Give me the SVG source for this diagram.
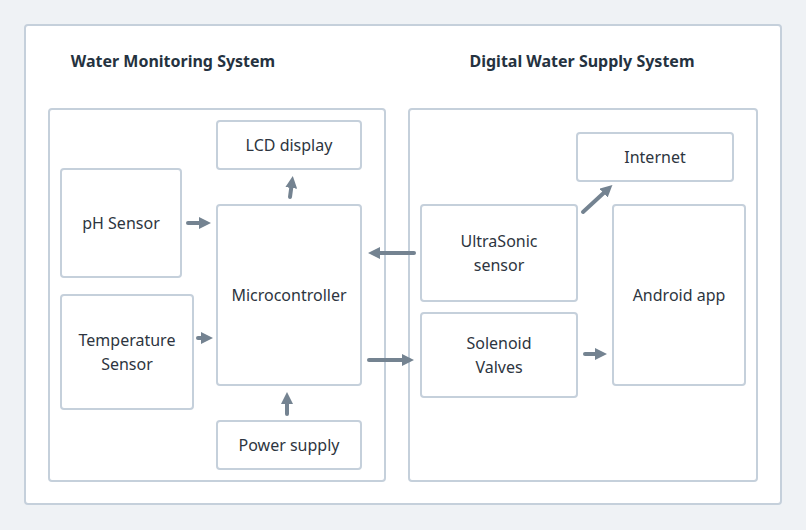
<svg xmlns="http://www.w3.org/2000/svg" width="806" height="530" viewBox="0 0 806 530">
<defs>
<style>
.box{fill:#fff;stroke:#c5d0db;stroke-width:2}
.t{font-family:"Noto Sans","Liberation Sans",sans-serif;font-size:16px;fill:#2d3540;text-anchor:middle;dominant-baseline:central}
.h{font-family:"Noto Sans","Liberation Sans",sans-serif;font-size:16px;font-weight:bold;fill:#253240;text-anchor:middle;dominant-baseline:central}
.c{stroke:#748391;stroke-width:4;fill:none;stroke-linecap:round}
</style>
<marker id="ah" viewBox="0 0 10 10" refX="5" refY="5" markerWidth="3" markerHeight="3" orient="auto" markerUnits="strokeWidth">
<path d="M0,0 L10,5 L0,10 z" fill="#748391"/>
</marker>
</defs>
<rect x="0" y="0" width="806" height="530" fill="#eff2f5"/>
<rect class="box" x="25" y="25" width="756" height="479" rx="3"/>
<g id="left-panel">
<rect class="box" x="49" y="109" width="336" height="372" rx="3"/>
<text class="h" x="173" y="61">Water Monitoring System</text>
</g>
<g id="right-panel">
<rect class="box" x="409" y="109" width="348" height="372" rx="3"/>
<text class="h" x="582" y="61">Digital Water Supply System</text>
</g>
<g id="lcd"><rect class="box" x="217" y="121" width="144" height="48" rx="3"/><text class="t" x="289" y="145">LCD display</text></g>
<g id="ph"><rect class="box" x="61" y="169" width="120" height="108" rx="3"/><text class="t" x="121" y="223">pH Sensor</text></g>
<g id="temp"><rect class="box" x="61" y="295" width="132" height="114" rx="3"/><text class="t" x="127" y="340">Temperature</text><text class="t" x="127" y="364">Sensor</text></g>
<g id="micro"><rect class="box" x="217" y="205" width="144" height="180" rx="3"/><text class="t" x="289" y="295">Microcontroller</text></g>
<g id="power"><rect class="box" x="217" y="421" width="144" height="48" rx="3"/><text class="t" x="289" y="445">Power supply</text></g>
<g id="internet"><rect class="box" x="577" y="133" width="156" height="48" rx="3"/><text class="t" x="655" y="157">Internet</text></g>
<g id="ultrasonic"><rect class="box" x="421" y="205" width="156" height="96" rx="3"/><text class="t" x="499" y="241">UltraSonic</text><text class="t" x="499" y="265">sensor</text></g>
<g id="solenoid"><rect class="box" x="421" y="313" width="156" height="84" rx="3"/><text class="t" x="499" y="343">Solenoid</text><text class="t" x="499" y="367">Valves</text></g>
<g id="android"><rect class="box" x="613" y="205" width="132" height="180" rx="3"/><text class="t" x="679" y="295">Android app</text></g>
<g id="connectors">
<path class="c" d="M188,223 L205,223" marker-end="url(#ah)"/>
<path class="c" d="M198,338 L207,338" marker-end="url(#ah)"/>
<path class="c" d="M290,197 L292,182" marker-end="url(#ah)"/>
<path class="c" d="M287,414 L287,398" marker-end="url(#ah)"/>
<path class="c" d="M414,253 L374,253" marker-end="url(#ah)"/>
<path class="c" d="M369,360 L408,360" marker-end="url(#ah)"/>
<path class="c" d="M583,212 L608,189" marker-end="url(#ah)"/>
<path class="c" d="M585,354 L601,354" marker-end="url(#ah)"/>
</g>
</svg>
